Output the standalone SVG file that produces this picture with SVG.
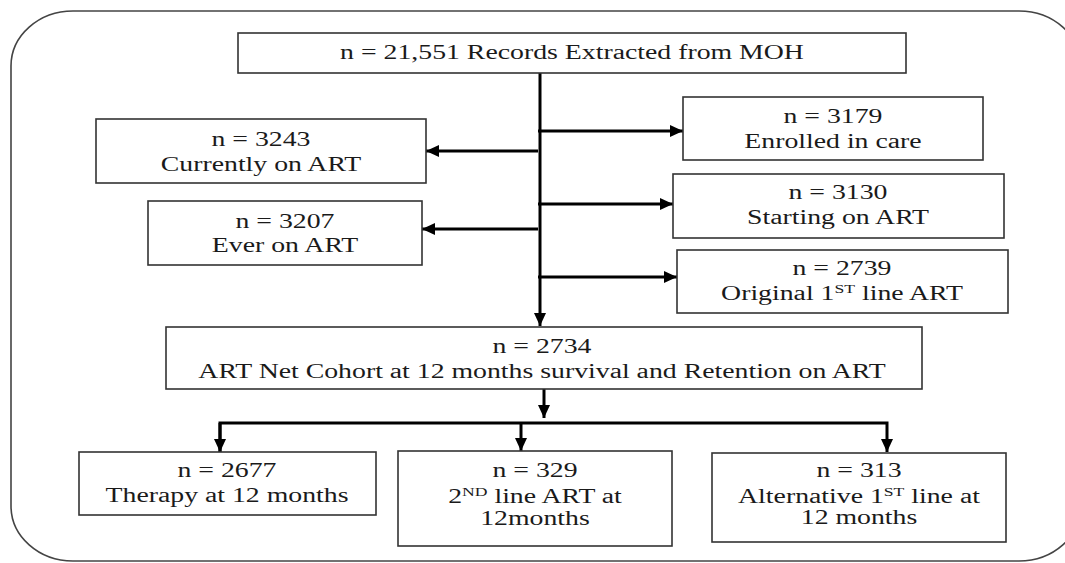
<svg xmlns="http://www.w3.org/2000/svg" width="1065" height="563" viewBox="0 0 1065 563">
<style>
.box{fill:#fff;stroke:#333;stroke-width:1.6}
.frame{fill:none;stroke:#444;stroke-width:1.6}
.t{font-family:'Liberation Serif','DejaVu Serif','Noto Serif',serif;font-size:20.5px;fill:#1a1a1a;text-anchor:middle}
.c{fill:none;stroke:#000;stroke-width:3}
</style>
<defs>
<marker id="ah" markerUnits="userSpaceOnUse" markerWidth="13" markerHeight="12" refX="13" refY="6" orient="auto">
<path d="M0,0 L13,6 L0,12 z" fill="#000"/>
</marker>
</defs>
<rect x="0" y="0" width="1065" height="563" fill="#fff"/>
<rect class="frame" x="11" y="11" width="1070" height="550" rx="62" ry="55"/>

<g id="connectors">
<line class="c" x1="540" y1="73" x2="540" y2="326" marker-end="url(#ah)"/>
<line class="c" x1="538" y1="131" x2="683" y2="131" marker-end="url(#ah)"/>
<line class="c" x1="538" y1="204" x2="673" y2="204" marker-end="url(#ah)"/>
<line class="c" x1="538" y1="277" x2="677" y2="277" marker-end="url(#ah)"/>
<line class="c" x1="538" y1="151" x2="426" y2="151" marker-end="url(#ah)"/>
<line class="c" x1="538" y1="229" x2="422" y2="229" marker-end="url(#ah)"/>
<line class="c" x1="544" y1="389" x2="544" y2="418" marker-end="url(#ah)"/>
<polyline class="c" points="220,452 220,423 887,423 887,452" marker-end="url(#ah)"/>
<line class="c" x1="220" y1="423" x2="220" y2="452" marker-end="url(#ah)"/>
<line class="c" x1="521" y1="423" x2="521" y2="451" marker-end="url(#ah)"/>
</g>

<g id="n_records">
<rect class="box" x="238" y="33" width="668" height="40"/>
<text class="t" transform="translate(572,59) scale(1.355,1)">n = 21,551 Records Extracted from MOH</text>
</g>
<g id="n_enrolled">
<rect class="box" x="683" y="97" width="300" height="63"/>
<text class="t" transform="translate(833,123) scale(1.355,1)">n = 3179</text>
<text class="t" transform="translate(833,148) scale(1.355,1)">Enrolled in care</text>
</g>
<g id="n_current">
<rect class="box" x="96" y="119" width="330" height="64"/>
<text class="t" transform="translate(261,146) scale(1.355,1)">n = 3243</text>
<text class="t" transform="translate(261,171) scale(1.355,1)">Currently on ART</text>
</g>
<g id="n_starting">
<rect class="box" x="673" y="174" width="331" height="64"/>
<text class="t" transform="translate(838,199) scale(1.355,1)">n = 3130</text>
<text class="t" transform="translate(838,224) scale(1.355,1)">Starting on ART</text>
</g>
<g id="n_ever">
<rect class="box" x="148" y="201" width="274" height="64"/>
<text class="t" transform="translate(285,228) scale(1.355,1)">n = 3207</text>
<text class="t" transform="translate(285,252) scale(1.355,1)">Ever on ART</text>
</g>
<g id="n_original">
<rect class="box" x="677" y="250" width="331" height="63"/>
<text class="t" transform="translate(842,275) scale(1.355,1)">n = 2739</text>
<text class="t" transform="translate(842,300) scale(1.355,1)">Original 1<tspan font-size="13" dy="-7">ST</tspan><tspan dy="7"> line ART</tspan></text>
</g>
<g id="n_cohort">
<rect class="box" x="166" y="327" width="756" height="62"/>
<text class="t" transform="translate(542,353) scale(1.355,1)">n = 2734</text>
<text class="t" transform="translate(542,378) scale(1.355,1)">ART Net Cohort at 12 months survival and Retention on ART</text>
</g>
<g id="n_therapy">
<rect class="box" x="79" y="452" width="297" height="63"/>
<text class="t" transform="translate(227,477) scale(1.355,1)">n = 2677</text>
<text class="t" transform="translate(227,502) scale(1.355,1)">Therapy at 12 months</text>
</g>
<g id="n_second">
<rect class="box" x="398" y="451" width="274" height="95"/>
<text class="t" transform="translate(535,477) scale(1.355,1)">n = 329</text>
<text class="t" transform="translate(535,503) scale(1.355,1)">2<tspan font-size="13" dy="-7">ND</tspan><tspan dy="7"> line ART at</tspan></text>
<text class="t" transform="translate(535,525) scale(1.355,1)">12months</text>
</g>
<g id="n_alt">
<rect class="box" x="712" y="453" width="294" height="89"/>
<text class="t" transform="translate(859,477) scale(1.355,1)">n = 313</text>
<text class="t" transform="translate(859,503) scale(1.355,1)">Alternative 1<tspan font-size="13" dy="-7">ST</tspan><tspan dy="7"> line at</tspan></text>
<text class="t" transform="translate(859,524) scale(1.355,1)">12 months</text>
</g>
</svg>
